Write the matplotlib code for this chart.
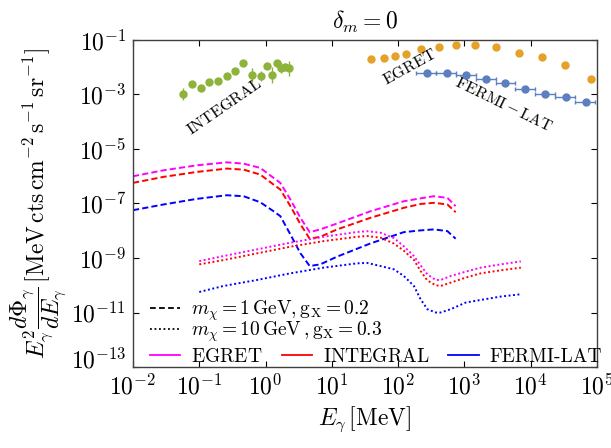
import matplotlib
matplotlib.use('Agg')
import matplotlib.pyplot as plt
from matplotlib.ticker import NullLocator
from matplotlib.lines import Line2D
from matplotlib.transforms import ScaledTranslation
import numpy as np

plt.rcParams['mathtext.fontset'] = 'cm'
plt.rcParams['font.family'] = ['cmr10', 'DejaVu Serif']

# ---------------- data ----------------
# observational data
integral_E = [0.0577, 0.0773, 0.106, 0.141, 0.191, 0.262, 0.349, 0.451, 0.625, 0.855,
              1.05, 1.25, 1.49, 1.68, 1.95, 2.29]
integral_F = [1.06e-3, 2.45e-3, 1.8e-3, 2.83e-3, 3.16e-3, 4.94e-3, 7.5e-3, 1.48e-2, 5.24e-3, 4.82e-3,
              1.15e-2, 5.24e-3, 1.4e-2, 9.7e-3, 1.05e-2, 9.2e-3]
integral_err_dex = [0.22, 0.05, 0.05, 0.05, 0.08, 0.05, 0.05, 0.05, 0.25, 0.18,
                    0.10, 0.28, 0.12, 0.20, 0.12, 0.28]

egret_E = [39.5, 61.2, 88.9, 130, 225, 416, 743, 1456, 2997, 6607, 14870, 33100, 80000]
egret_F = [0.0202, 0.0214, 0.026, 0.0308, 0.0457, 0.0569, 0.0656, 0.0656, 0.0569, 0.0326,
           0.0245, 0.0122, 0.00374]

fermi_E = [268, 537, 1052, 2112, 4094, 8220, 16680, 33500, 67200]
fermi_F = [6.05e-3, 6.05e-3, 5.1e-3, 3.74e-3, 2.67e-3, 1.57e-3, 1.08e-3, 8.0e-4, 5.5e-4]
fermi_lo = [186, 372, 741, 1479, 2951, 5888, 11750, 23440, 46770]
fermi_hi = [372, 741, 1479, 2951, 5888, 11750, 23440, 46770, 93330]

# model curves: m_chi = 1 GeV, g_X = 0.2 (dashed)
E_dash = [0.01, 0.0287, 0.0918, 0.261, 0.466, 0.832, 1.32, 1.67, 2.37, 3.35, 4.63, 6.69,
          12.0, 38.3, 122, 218, 347, 553, 738]
egret_dash = [1.0e-6, 1.65e-6, 2.52e-6, 3.24e-6, 2.90e-6, 2.02e-6, 8.7e-7, 5.7e-7, 1.4e-7, 3.0e-8,
              8.9e-9, 1.12e-8, 1.85e-8, 5.2e-8, 1.21e-7, 1.55e-7, 1.85e-7, 1.61e-7, 8.0e-8]
integral_dash = [5.71e-7, 9.46e-7, 1.44e-6, 1.91e-6, 1.75e-6, 1.15e-6, 4.95e-7, 3.25e-7, 8.0e-8, 1.75e-8,
                 5.1e-9, 6.0e-9, 1.12e-8, 2.99e-8, 6.95e-8, 9.6e-8, 1.06e-7, 9.2e-8, 4.8e-8]
fermi_dash = [5.68e-8, 9.18e-8, 1.48e-7, 2.01e-7, 1.85e-7, 1.11e-7, 5.2e-8, 3.43e-8, 7.3e-9, 1.5e-9,
              5.07e-10, 5.85e-10, 1.12e-9, 3.43e-9, 8.9e-9, 1.03e-8, 1.12e-8, 9.7e-9, 5.1e-9]

# model curves: m_chi = 10 GeV, g_X = 0.3 (dotted)
E_dot = [0.1, 0.232, 0.741, 2.37, 7.54, 24.1, 34, 54.2, 86.3, 122, 173, 218, 276, 368, 438,
         621, 1047, 1763, 3536, 7100]
egret_dot = [7.7e-10, 1.18e-9, 2.07e-9, 3.64e-9, 6.04e-9, 9.0e-9, 9.6e-9, 8.45e-9, 5.4e-9, 2.67e-9,
             1.18e-9, 5.4e-10, 2.5e-10, 1.56e-10, 1.56e-10, 2.18e-10, 3.16e-10, 4.43e-10, 5.85e-10, 7.5e-10]
integral_dot = [5.85e-10, 8.4e-10, 1.48e-9, 2.6e-9, 4.17e-9, 6.0e-9, 6.4e-9, 5.55e-9, 3.4e-9, 1.85e-9,
                8.5e-10, 3.33e-10, 1.5e-10, 1.0e-10, 9.4e-11, 1.25e-10, 1.91e-10, 2.74e-10, 3.53e-10, 4.43e-10]
fermi_dot = [5.67e-11, 9.4e-11, 1.56e-10, 2.74e-10, 4.43e-10, 6.37e-10, 6.6e-10, 5.07e-10, 3.84e-10, 2.18e-10,
             9.4e-11, 3.07e-11, 1.32e-11, 1.0e-11, 1.0e-11, 1.32e-11, 2.32e-11, 2.89e-11, 3.85e-11, 4.68e-11]

xticks = [1e-2, 1e-1, 1e0, 1e1, 1e2, 1e3, 1e4, 1e5]
xticklabels = [r'$10^{-2}$', r'$10^{-1}$', r'$10^{0}$', r'$10^{1}$', r'$10^{2}$',
               r'$10^{3}$', r'$10^{4}$', r'$10^{5}$']
yticks = [1e-1, 1e-3, 1e-5, 1e-7, 1e-9, 1e-11, 1e-13]
yticklabels = [r'$10^{-1}$', r'$10^{-3}$', r'$10^{-5}$', r'$10^{-7}$', r'$10^{-9}$',
               r'$10^{-11}$', r'$10^{-13}$']

# ---------------- plot ----------------
fig = plt.figure(figsize=(6.11, 4.48), dpi=100)
ax = fig.add_axes([133/611, 1-367/448, 464/611, 327/448])
ax.set_xscale('log')
ax.set_yscale('log')

c_mag, c_red, c_blue = '#ff00ff', '#ff0000', '#0000ff'
dash = (0, (3.2, 1.6))
dot = (0, (1.0, 1.3))
lw = 1.4

ax.plot(E_dash, egret_dash, color=c_mag, ls=dash, lw=lw)
ax.plot(E_dash, integral_dash, color=c_red, ls=dash, lw=lw)
ax.plot(E_dash, fermi_dash, color=c_blue, ls=dash, lw=lw)
ax.plot(E_dot, egret_dot, color=c_mag, ls=dot, lw=lw)
ax.plot(E_dot, integral_dot, color=c_red, ls=dot, lw=lw)
ax.plot(E_dot, fermi_dot, color=c_blue, ls=dot, lw=lw)

iF = np.array(integral_F)
ie = np.array(integral_err_dex)
ax.errorbar(integral_E, iF, yerr=[iF - iF*10**(-ie), iF*10**ie - iF], fmt='o',
            color='#8db33a', ms=5, elinewidth=1, capsize=0, zorder=3)
ax.plot(egret_E, egret_F, 'o', color='#e5a128', ms=5, zorder=3)
fE = np.array(fermi_E)
ax.errorbar(fermi_E, fermi_F, xerr=[fE - np.array(fermi_lo), np.array(fermi_hi) - fE],
            fmt='o', color='#5b7fbf', ms=5, elinewidth=1, capsize=1.5, zorder=3)

tfs = 11.5
ax.text(0.238, 3.54e-4, r'$\mathrm{INTEGRAL}$', rotation=34.6, fontsize=tfs,
        ha='center', va='center', rotation_mode='anchor')
ax.text(149, 1.03e-2, r'$\mathrm{EGRET}$', rotation=29, fontsize=tfs,
        ha='center', va='center', rotation_mode='anchor')
ax.text(3930, 4.19e-4, r'$\mathrm{FERMI-LAT}$', rotation=-26, fontsize=tfs,
        ha='center', va='center', rotation_mode='anchor')

ax.set_xlim(1e-2, 1e5)
ax.set_ylim(1e-13, 1e-1)
ax.set_xticks(xticks)
ax.set_xticklabels(xticklabels)
ax.set_yticks(yticks)
ax.set_yticklabels(yticklabels)
ax.xaxis.set_minor_locator(NullLocator())
ax.yaxis.set_minor_locator(NullLocator())
ax.tick_params(which='both', direction='in', top=True, right=True, length=4,
               width=0.8, labelsize=17, pad=5)
for s in ax.spines.values():
    s.set_linewidth(1.0)
    s.set_color('0.25')
# bottom y label sits slightly above its tick in the reference
lab = ax.get_yticklabels()[-1]
lab.set_transform(lab.get_transform() + ScaledTranslation(0, 9/100, fig.dpi_scale_trans))

ax.set_title(r'$\delta_m = 0$', fontsize=17, pad=8)
ax.set_xlabel(r'$E_\gamma\,[\mathrm{MeV}]$', fontsize=17, labelpad=4)
ax.set_ylabel(r'$E_\gamma^2\dfrac{d\Phi_\gamma}{dE_\gamma}\,[\mathrm{MeV\,cts\,cm^{-2}\,s^{-1}\,sr^{-1}}]$',
              fontsize=17, labelpad=2)

lfs = 14
common = dict(frameon=False, fontsize=lfs, handlelength=1.55, handletextpad=0.55,
              borderpad=0, borderaxespad=0, loc='center left')
leg_a = ax.legend([Line2D([], [], color='k', ls=(0, (3.2, 1.8)), lw=1.3)],
                  [r'$m_\chi = 1\,\mathrm{GeV}, \mathrm{g_X} = 0.2$'],
                  bbox_to_anchor=(0.0366, 0.172), **common)
ax.add_artist(leg_a)
leg_b = ax.legend([Line2D([], [], color='k', ls=(0, (1.0, 1.5)), lw=1.3)],
                  [r'$m_\chi = 10\,\mathrm{GeV}\,, \mathrm{g_X} = 0.3$'],
                  bbox_to_anchor=(0.0366, 0.108), **common)
ax.add_artist(leg_b)
h2 = [Line2D([], [], color=c_mag, lw=1.3), Line2D([], [], color=c_red, lw=1.3),
      Line2D([], [], color=c_blue, lw=1.3)]
l2 = [r'$\mathrm{EGRET}$', r'$\mathrm{INTEGRAL}$', 'FERMI-LAT']
ax.legend(h2, l2, bbox_to_anchor=(0.0366, 0.030), ncol=3, columnspacing=1.0, **common)

fig.savefig('out.png', dpi=100)
